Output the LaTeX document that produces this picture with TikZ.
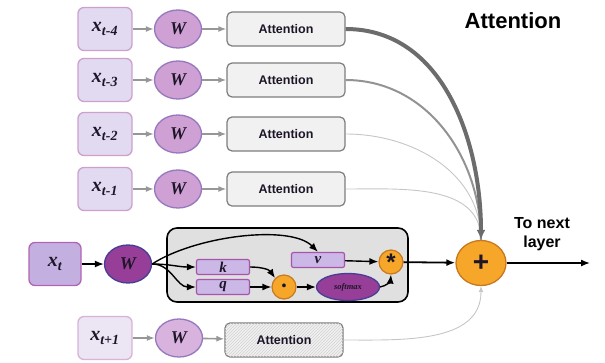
\documentclass[tikz,border=0pt]{standalone}
\usepackage{fontspec}
\setmainfont{Liberation Serif}
\setsansfont{Liberation Sans}
\usepackage{tikz}
\usetikzlibrary{positioning, arrows.meta, patterns, shapes.geometric}
\definecolor{lavlight}{RGB}{226,218,240}
\definecolor{lavedge}{RGB}{205,160,205}
\definecolor{wfill}{RGB}{206,160,212}
\definecolor{wedge}{RGB}{150,120,190}
\definecolor{xtfill}{RGB}{196,176,224}
\definecolor{xtedge}{RGB}{178,100,180}
\definecolor{wtfill}{RGB}{150,62,152}
\definecolor{wtedge}{RGB}{70,62,150}
\definecolor{kqfill}{RGB}{204,184,230}
\definecolor{kqedge}{RGB}{165,85,170}
\definecolor{opfill}{RGB}{246,166,40}
\definecolor{opedge}{RGB}{200,120,30}
\definecolor{panel}{RGB}{224,224,224}
\definecolor{attfill}{RGB}{241,241,241}
\definecolor{attedge}{RGB}{125,125,125}
\definecolor{ink}{RGB}{30,22,40}

\begin{document}
\begin{tikzpicture}[x=1pt, y=-1pt,
    inp/.style={rectangle, rounded corners=6pt, draw=lavedge, fill=lavlight, line width=1.3pt,
                minimum width=54pt, minimum height=43pt, text=ink,
                font=\fontsize{20}{20}\selectfont\bfseries\itshape},
    wgt/.style={ellipse, draw=wedge, fill=wfill, line width=1.3pt, minimum width=47pt,
                minimum height=38pt, inner sep=0pt, text=ink,
                font=\fontsize{18}{18}\selectfont\bfseries\itshape},
    attn/.style={rectangle, rounded corners=5pt, draw=attedge, fill=attfill, line width=1.2pt,
                 minimum width=118pt, minimum height=34pt, text=ink,
                 font=\fontsize{12.5}{13}\selectfont\sffamily\bfseries},
    vec/.style={rectangle, rounded corners=2pt, draw=kqedge, fill=kqfill, line width=1.2pt,
                minimum width=53pt, minimum height=15pt, inner sep=0pt, text=ink,
                font=\fontsize{15}{15}\selectfont\bfseries\itshape},
    op/.style={circle, draw=opedge, fill=opfill, line width=1.2pt, minimum size=24pt,
               inner sep=0pt, text=ink},
    grayarr/.style={-{Latex[length=8pt,width=6pt]}, draw=attedge!80, line width=1.6pt},
    blackarr/.style={-{Latex[length=9pt,width=7pt]}, draw=black, line width=1.4pt}
  ]
  \useasboundingbox (0,0) rectangle (605,362);

  % --- past time steps ---
  \foreach \i/\y/\lab in {1/29/t-4, 2/80/t-3, 3/134/t-2, 4/189/t-1} {
      \node[inp] (x\i) at (105,\y) {x\textsubscript{\lab}};
      \node[wgt] (w\i) at (178,\y) {W};
      \node[attn] (a\i) at (286,\y) {Attention};
      \draw[grayarr] (x\i) -- (w\i);
      \draw[grayarr] (w\i) -- (a\i);
  }

  % --- current step ---
  \node[rectangle, rounded corners=10pt, draw=black, fill=panel, line width=1.6pt,
        minimum width=241pt, minimum height=74pt] (panel) at (287.5,265) {};
  \node[inp, draw=xtedge, fill=xtfill, minimum width=52pt] (xt) at (55,264) {x\textsubscript{t}};
  \node[wgt, draw=wtedge, fill=wtfill] (wt) at (128,264) {W};
  \node[vec] (k) at (223,267) {k};
  \node[vec] (q) at (223,287) {q};
  \node[vec] (v) at (318,260) {v};
  \node[op, font=\fontsize{14}{14}\selectfont\bfseries] (dot) at (284,287) {•};
  \node[ellipse, draw=wtedge, fill=wtfill, line width=1.3pt, minimum width=63pt,
        minimum height=27pt, inner sep=0pt, text=ink,
        font=\fontsize{8.5}{8.5}\selectfont\bfseries\itshape] (soft) at (348,287) {softmax};
  \node[op, font=\fontsize{24}{24}\selectfont\sffamily\bfseries] (star) at (391,262) {\raisebox{-7pt}{*}};
  \node[op, minimum width=50pt, minimum height=45pt, ellipse, line width=1.3pt,
        font=\fontsize{28}{28}\selectfont\sffamily\bfseries] (plus) at (481,263) {+};

  \draw[blackarr] (xt) -- (wt);
  \draw[blackarr] (wt.east) to[out=0, in=180] (k.west);
  \draw[blackarr] (wt.east) to[out=0, in=180] (q.west);
  \draw[blackarr] (wt.east) .. controls (195,236) and (290,224) .. (v.north);
  \draw[blackarr] (k.east) to[out=0, in=125] (dot.north west);
  \draw[blackarr] (q) -- (dot);
  \draw[blackarr] (dot) -- (soft);
  \draw[blackarr] (v) -- (star);
  \draw[blackarr] (soft.east) to[out=10, in=-95] (star.south);
  \draw[blackarr, line width=1.8pt] (star) -- (plus);
  \coordinate (out) at (590,263);
  \draw[blackarr] (plus) -- (out);

  % --- next step ---
  \node[inp, fill=lavlight!70, draw=lavedge!80] (xn) at (105,338) {x\textsubscript{t+1}};
  \node[wgt, fill=wfill!80] (wn) at (179,338) {W};
  \node[attn, postaction={pattern=north east lines, pattern color=gray!35}] (an) at (284,340) {};
  \node[font=\fontsize{12.5}{13}\selectfont\sffamily\bfseries, text=ink] at (an) {Attention};
  \draw[grayarr] (xn) -- (wn);
  \draw[grayarr] (wn) -- (an);

  % --- weighted sum ---
  \draw[draw=gray!45, line width=0.9pt] (a4.east) to[out=0, in=90] (plus.north);
  \draw[draw=gray!45, line width=0.9pt] (a3.east) to[out=0, in=90] (plus.north);
  \draw[draw=gray!85, line width=2pt] (a2.east) to[out=0, in=90] (plus.north);
  \draw[-{Latex[length=10pt,width=9pt]}, draw=gray!85!black, line width=4pt]
       (a1.east) to[out=0, in=90] (plus.north);
  \draw[-{Latex[length=6pt,width=5pt]}, draw=gray!45, line width=0.9pt]
       (an.east) to[out=0, in=-90] (plus.south);

  \node[font=\fontsize{22}{22}\selectfont\sffamily\bfseries, text=black] (title) at (513,21) {Attention};
  \node[font=\fontsize{16}{19}\selectfont\sffamily\bfseries, text=black, align=center,
        inner sep=0pt] (nxt) at (542,234) {To next\\layer};
\end{tikzpicture}
\end{document}
